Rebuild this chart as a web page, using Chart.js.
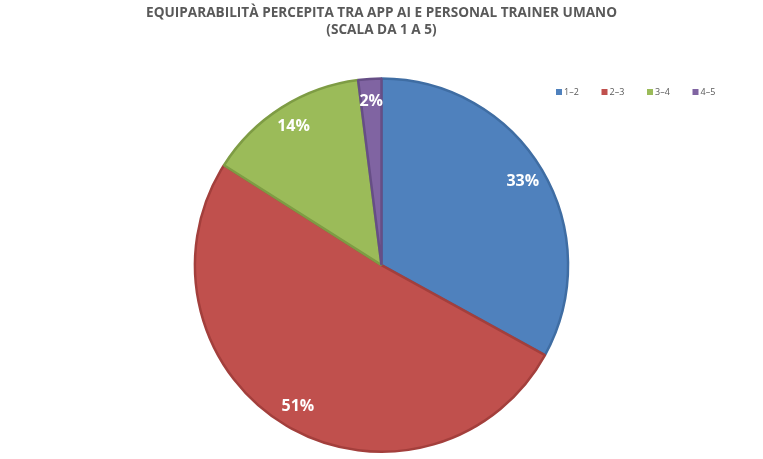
<!DOCTYPE html>
<html>
<head>
<meta charset="utf-8">
<script src="https://cdn.jsdelivr.net/npm/chart.js@4"></script>
<style>
  html, body { margin: 0; padding: 0; background: #fff; }
  #wrap { width: 763px; height: 459px; }
</style>
</head>
<body>
<div id="wrap"><canvas id="pieChart"></canvas></div>
<script>
var labels = ["1–2", "2–3", "3–4", "4–5"];
var values = [33, 51, 14, 2];
var fills = ['#4F81BD', '#C0504D', '#9BBB59', '#8064A2'];
var borders = ['#3F6DA3', '#A33F3C', '#7E9C44', '#664E86'];

// percent labels drawn near the outer edge of each slice
var sliceLabels = {
  id: 'sliceLabels',
  afterDatasetsDraw: function(chart) {
    var ctx = chart.ctx;
    var meta = chart.getDatasetMeta(0);
    ctx.save();
    ctx.font = 'bold 16px "Open Sans", sans-serif';
    ctx.fillStyle = '#ffffff';
    ctx.textAlign = 'center';
    ctx.textBaseline = 'middle';
    meta.data.forEach(function(arc, i) {
      var p = arc.getProps(['x', 'y', 'startAngle', 'endAngle', 'outerRadius'], true);
      var mid = (p.startAngle + p.endAngle) / 2;
      var r = p.outerRadius * 0.88;
      ctx.fillText(values[i] + '%', p.x + Math.cos(mid) * r, p.y + Math.sin(mid) * r);
    });
    ctx.restore();
  }
};

// small legend in the top-right corner, like the original
var cornerLegend = {
  id: 'cornerLegend',
  afterDraw: function(chart) {
    var ctx = chart.ctx;
    ctx.save();
    ctx.font = '9px "Open Sans", sans-serif';
    ctx.textBaseline = 'middle';
    ctx.textAlign = 'left';
    labels.forEach(function(lab, i) {
      var x = 556 + i * 45.5;
      var y = 92;
      ctx.fillStyle = fills[i];
      ctx.fillRect(x, y - 3, 6, 6);
      ctx.fillStyle = '#595959';
      ctx.fillText(lab, x + 8, y);
    });
    ctx.restore();
  }
};

new Chart("pieChart", {
  type: "pie",
  data: {
    labels: labels,
    datasets: [{
      data: values,
      backgroundColor: fills,
      borderColor: borders,
      borderWidth: 2.5
    }]
  },
  options: {
    responsive: true,
    maintainAspectRatio: false,
    animation: false,
    layout: { padding: { top: 0, bottom: 6, left: 0, right: 0 } },
    plugins: {
      tooltip: { enabled: false },
      legend: { display: false },
      title: {
        display: true,
        text: ["EQUIPARABILITÀ PERCEPITA TRA APP AI E PERSONAL TRAINER UMANO", "(SCALA DA 1 A 5)"],
        color: '#595959',
        font: { size: 13.6, weight: 'bold', family: '"Open Sans", sans-serif', lineHeight: 1.3 },
        padding: { top: 4, bottom: 38 }
      }
    }
  },
  plugins: [sliceLabels, cornerLegend]
});
</script>
</body>
</html>
